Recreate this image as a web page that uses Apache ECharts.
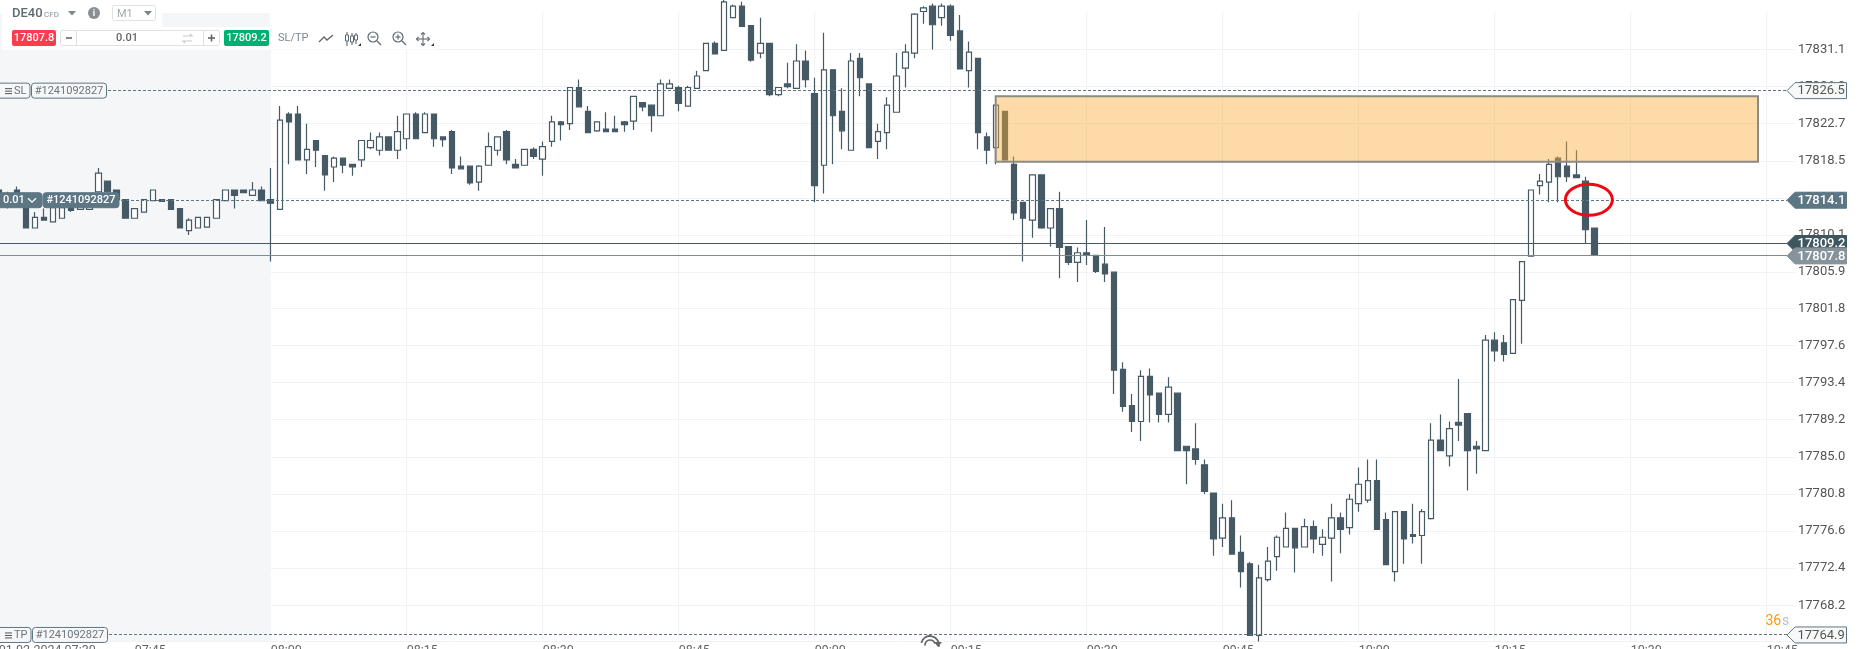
<!DOCTYPE html>
<html>
<head>
<meta charset="utf-8">
<style>html,body{margin:0;padding:0;background:#fff;overflow:hidden}#c{width:1859px;height:649px}</style>
<script src="https://cdn.jsdelivr.net/npm/echarts@6/dist/echarts.min.js"></script>
</head>
<body>
<div id="c"></div>
<script>
const opens = [
17815.2,17814.6,17815.2,17814.3,17810.9,17812.1,17811.6,17812.0,17813.3,17813.0,
17813.0,17815.0,17816.2,17815.2,17814.1,17812.0,17812.7,17814.0,17814.1,17814.1,
17813.1,17810.6,17810.9,17811.0,17812.0,17814.0,17815.2,17815.2,17814.6,17815.2,
17814.1,17813.0,17823.8,17823.8,17818.6,17820.8,17819.1,17817.8,17818.8,17818.1,
17818.6,17820.0,17819.7,17821.2,17819.7,17821.0,17823.8,17821.7,17823.8,17821.2,
17821.8,17817.9,17817.9,17816.1,17818.0,17819.7,17821.8,17818.1,17818.0,17819.8,
17818.7,17820.7,17822.9,17822.7,17826.8,17824.1,17821.9,17822.1,17822.1,17822.9,
17823.0,17825.1,17824.8,17823.6,17826.7,17826.8,17824.7,17826.7,17828.7,17831.8,
17831.0,17834.7,17836.0,17833.8,17830.7,17831.8,17826.0,17827.2,17826.7,17829.8,
17826.1,17818.0,17828.8,17824.1,17819.7,17830.1,17827.2,17820.7,17821.7,17824.0,
17829.0,17830.7,17835.4,17836.0,17834.7,17836.0,17833.2,17828.7,17830.1,17821.2,
17820.0,17824.1,17818.1,17813.8,17811.8,17816.9,17810.9,17813.1,17808.8,17807.0,
17808.1,17807.8,17806.8,17805.9,17794.9,17790.8,17789.0,17794.1,17792.2,17789.8,
17792.2,17786.2,17785.9,17784.1,17780.9,17775.8,17778.1,17774.2,17772.9,17764.8,
17771.1,17773.7,17774.8,17776.9,17774.8,17777.1,17775.1,17775.8,17778.1,17777.0,
17779.7,17780.1,17782.3,17777.9,17772.0,17778.8,17776.2,17776.1,17778.0,17786.9,
17785.1,17788.9,17789.9,17786.2,17785.7,17798.2,17797.9,17796.7,17802.7,17807.7,
17815.7,17816.1,17818.8,17817.9,17816.9,17816.2,17810.9];
const closes = [
17814.0,17813.4,17814.2,17810.9,17812.1,17811.8,17813.2,17813.2,17812.9,17813.6,
17813.6,17817.1,17815.0,17814.1,17812.0,17813.1,17814.1,17815.2,17813.9,17813.0,
17810.9,17811.8,17812.1,17812.1,17814.1,17815.2,17814.6,17814.9,17815.2,17814.0,
17813.7,17823.1,17822.9,17818.6,17819.8,17819.7,17816.9,17818.8,17818.0,17817.8,
17820.8,17820.8,17821.2,17819.7,17821.8,17823.8,17821.0,17823.8,17821.0,17820.9,
17817.7,17817.6,17816.0,17817.9,17820.1,17821.2,17818.6,17817.7,17819.8,17819.0,
17820.1,17822.9,17822.6,17826.8,17824.6,17821.7,17822.9,17821.8,17821.8,17822.6,
17825.8,17824.6,17823.6,17827.2,17827.2,17825.0,17826.8,17828.1,17831.8,17830.6,
17836.5,17836.0,17833.7,17829.9,17831.8,17826.0,17826.8,17826.9,17829.8,17827.7,
17815.7,17828.8,17823.6,17821.9,17829.8,17827.9,17820.0,17821.8,17824.8,17828.1,
17830.8,17835.1,17835.8,17833.9,17836.0,17832.7,17828.9,17830.8,17821.7,17819.7,
17824.8,17818.6,17812.6,17812.0,17816.9,17810.9,17813.1,17808.7,17807.0,17808.1,
17807.8,17806.0,17805.7,17794.8,17790.7,17789.0,17794.1,17792.0,17789.8,17792.9,
17785.7,17785.7,17784.7,17781.1,17775.7,17778.1,17774.0,17772.0,17764.8,17771.3,
17773.2,17775.9,17776.9,17774.7,17777.1,17775.7,17775.9,17778.1,17776.8,17780.2,
17781.9,17782.3,17776.8,17772.8,17778.8,17775.7,17776.0,17778.8,17786.9,17785.7,
17788.2,17788.6,17785.7,17785.9,17798.2,17797.0,17796.6,17802.8,17807.1,17815.2,
17816.2,17818.1,17816.7,17816.7,17816.6,17810.7,17807.8];
const lows = [
17813.8,17813.1,17813.9,17810.9,17810.9,17811.8,17811.6,17812.0,17812.7,17813.0,
17813.0,17815.0,17815.0,17814.1,17812.0,17812.0,17812.7,17814.0,17813.9,17813.0,
17810.9,17810.1,17810.9,17811.0,17812.0,17814.0,17813.1,17814.9,17814.6,17814.0,
17807.1,17813.0,17818.1,17818.6,17817.0,17817.8,17815.1,17816.1,17817.1,17816.8,
17817.8,17819.8,17819.1,17819.7,17818.7,17819.8,17821.0,17821.7,17820.1,17820.1,
17817.0,17817.6,17815.8,17815.1,17818.0,17819.1,17818.1,17817.7,17818.0,17818.7,
17816.8,17820.1,17820.8,17822.0,17824.6,17821.7,17821.8,17821.8,17821.8,17821.8,
17822.0,17824.1,17821.8,17823.6,17826.7,17824.1,17824.7,17826.7,17828.7,17830.6,
17831.0,17834.7,17833.7,17829.7,17830.1,17825.8,17825.8,17826.7,17826.7,17826.8,
17813.8,17814.8,17818.1,17819.8,17819.7,17825.8,17820.0,17818.7,17819.8,17824.0,
17826.8,17830.1,17834.0,17831.1,17833.8,17832.1,17828.9,17826.8,17819.8,17818.1,
17818.1,17818.6,17811.8,17807.1,17809.8,17810.8,17808.8,17805.2,17806.7,17804.8,
17806.7,17805.8,17804.8,17792.1,17790.1,17787.8,17786.8,17788.9,17788.9,17788.9,
17785.7,17781.9,17784.1,17780.8,17773.8,17774.8,17774.0,17770.2,17764.8,17764.1,
17770.9,17772.1,17774.8,17771.9,17774.8,17774.1,17773.8,17770.9,17774.1,17776.2,
17778.8,17779.8,17776.8,17772.8,17770.9,17772.9,17775.2,17772.9,17777.9,17785.7,
17783.9,17786.8,17781.2,17783.1,17785.7,17795.8,17795.8,17796.7,17797.8,17807.7,
17814.7,17813.8,17813.8,17816.1,17816.6,17809.2,17807.8];
const highs = [
17815.4,17815.0,17815.6,17814.6,17812.7,17813.1,17813.4,17813.4,17813.5,17813.8,
17813.7,17817.7,17816.2,17815.2,17814.1,17813.1,17814.1,17815.2,17814.1,17814.1,
17813.1,17812.0,17812.1,17812.1,17814.1,17815.2,17815.2,17815.2,17816.1,17815.6,
17817.7,17824.7,17824.0,17824.7,17822.7,17820.8,17819.1,17819.0,17818.8,17818.1,
17820.8,17821.7,17821.7,17821.2,17823.6,17823.8,17824.0,17824.0,17823.8,17821.2,
17822.0,17819.0,17817.9,17818.0,17821.7,17821.2,17822.0,17818.7,17819.8,17820.0,
17820.7,17823.6,17823.0,17826.8,17827.7,17824.7,17822.9,17824.0,17823.6,17823.0,
17825.8,17825.1,17824.8,17827.7,17827.7,17827.0,17827.0,17828.7,17831.8,17832.0,
17837.0,17836.2,17836.5,17833.8,17834.7,17831.8,17826.8,17829.6,17831.7,17831.0,
17827.9,17833.0,17828.8,17826.7,17830.7,17830.7,17827.2,17822.7,17825.7,17830.7,
17831.7,17835.2,17836.0,17836.3,17836.3,17836.2,17835.0,17832.0,17830.1,17821.7,
17824.8,17824.1,17819.0,17813.8,17816.9,17816.9,17813.1,17815.0,17808.8,17808.7,
17811.8,17807.8,17811.0,17805.9,17795.7,17792.1,17794.8,17795.0,17792.2,17794.0,
17792.2,17786.2,17788.8,17784.7,17780.9,17779.7,17780.1,17776.1,17773.1,17772.8,
17774.8,17776.1,17778.7,17776.9,17778.0,17777.8,17776.8,17779.7,17778.7,17780.8,
17783.8,17784.7,17784.7,17778.7,17778.8,17778.8,17779.7,17779.1,17788.8,17789.8,
17789.0,17793.8,17789.9,17786.8,17798.8,17799.1,17798.8,17802.8,17807.1,17815.2,
17817.0,17818.7,17819.0,17820.7,17819.7,17816.7,17810.9];

const firstCandleMinute = 450;
const priceTicks = [17831.1,17826.9,17822.7,17818.5,17814.3,17810.1,17805.9,17801.8,17797.6,17793.4,17789.2,17785.0,17780.8,17776.6,17772.4,17768.2];
const timeTickMinutes = [450,465,480,495,510,525,540,555,570,585,600,615,630,645];
const timeTickLabels = ['01.02.2024 07:30','07:45','08:00','08:15','08:30','08:45','09:00','09:15','09:30','09:45','10:00','10:15','10:30','10:45'];

const tagPrices = [17826.5,17814.1,17809.2,17807.8,17764.9];
const tagTexts = ['17826.5','17814.1','17809.2','17807.8','17764.9'];
const dashedPrices = [17826.5,17814.1,17764.9];
const solidPrices = [17809.2,17807.8];
const zone = [559.96,644.04,17825.8,17818.4];
const orderId = '#1241092827';
const bidText = '17807.8', askText = '17809.2', lotText = '0.01';

const DARK='#455a64', SLATE='#5c7684', GRID='#f1f2f4', FONT='Roboto';
const candleData = opens.map((o,i)=>[firstCandleMinute+i,o,closes[i],lows[i],highs[i]]);
const xMin=450, xMax=648.12, yMin=17764.08, yMax=17835.23;

const tagStyle = [
 {fill:'#f7f8f8',stroke:SLATE,color:'#555',weight:400},
 {fill:SLATE,stroke:SLATE,color:'#fff',weight:500},
 {fill:'#3f5661',stroke:'#3f5661',color:'#fff',weight:500},
 {fill:'#87939a',stroke:'#87939a',color:'#fff',weight:500},
 {fill:'#f7f8f8',stroke:SLATE,color:'#555',weight:400}
];

function box(x,y,w,h,txt,o,tx){
  return [{type:'rect',shape:{x,y,width:w,height:h,r:o.r||0},style:{fill:o.fill,stroke:o.stroke}},
          {type:'text',x:tx!==undefined?tx:x+w/2,y:y+h/2+0.5,style:{text:txt,font:(o.weight||400)+' '+(o.size||11)+'px '+FONT,fill:o.color,align:tx!==undefined?'left':'center',verticalAlign:'middle'}}];
}
function menuBars(y,color){
  return [-2.5,0,2.5].map(d=>({type:'line',shape:{x1:5,y1:y+d+0.5,x2:12,y2:y+d+0.5},style:{stroke:color,lineWidth:1}}));
}

const chart = echarts.init(document.getElementById('c'),null,{renderer:'canvas'});

const T=(x,y,text,size,color,weight,align)=>({type:'text',x,y,z:101,style:{text,font:(weight||400)+' '+size+'px '+FONT,fill:color,align:align||'left',verticalAlign:'middle'}});
const R=(x,y,w,h,fill,stroke,r)=>({type:'rect',z:100,shape:{x,y,width:w,height:h,r:r||0},style:{fill:fill||'none',stroke:stroke||'none',lineWidth:1}});
const L=(pts,stroke,lw)=>({type:'polyline',z:101,shape:{points:pts},style:{stroke:stroke,lineWidth:lw||1,fill:'none'}});
const F=(pts,c)=>({type:'polygon',z:101,shape:{points:pts},style:{fill:c}});
const TRI=(x,y,w,h,c)=>F([[x,y],[x+w,y],[x+w/2,y+h]],c);
const C=(cx,cy,r,stroke)=>({type:'circle',z:101,shape:{cx,cy,r},style:{fill:'none',stroke,lineWidth:1.2}});
const ICON='#5d6a72';

const toolbar=[
 R(2,0,435,49.5,'#fff'),
 R(162,13,108,14,'#f5f6f8'),
 T(12,14,'DE40',13,'#5f6b73',500),
 T(44,15,'CFD',8,'#8a9298',400),
 TRI(68,11,8,4.5,'#7d858b'),
 {type:'circle',z:101,shape:{cx:94,cy:13,r:6},style:{fill:'#8b8f92'}},
 T(94,13.5,'i',9,'#fff',700,'center'),
 R(112.5,5.5,43,15,'#fff','#dfe1e3',2),
 T(117,14,'M1',11,'#a2a8ac',400),
 TRI(144,11,8,4.5,'#7d858b'),
 R(12,30,44,16,'#ff3b4e',null,2),
 T(34,38,bidText,11,'#fff',500,'center'),
 R(60.5,30.5,159,15,'#fff','#dfe1e3',2),
 L([[76.5,31],[76.5,45]],'#dfe1e3'),
 L([[203.5,31],[203.5,45]],'#dfe1e3'),
 L([[66,38],[72,38]],'#666',1.6),
 L([[208,38],[215,38]],'#666',1.6),
 L([[211.5,34.5],[211.5,41.5]],'#666',1.6),
 T(127,38,lotText,11,'#666',500,'center'),
 L([[183,36],[192,36],[190,34]],'#c4c8cb',1.2),
 L([[192,41],[183,41],[185,43]],'#c4c8cb',1.2),
 R(224,30,45,16,'#00b070',null,2),
 T(246.5,38,askText,11,'#fff',500,'center'),
 T(278,38,'SL/TP',11,'#7b868d',400),
 L([[319,42],[324,37],[327,40],[333,35]],ICON,1.3),
 L([[347,32],[347,46]],ICON,1.1), {type:'rect',z:101,shape:{x:345.5,y:35,width:3,height:6},style:{fill:'#fff',stroke:ICON}},
 L([[352,33],[352,45]],ICON,1.1), {type:'rect',z:101,shape:{x:350.5,y:36,width:3,height:6},style:{fill:'#fff',stroke:ICON}},
 L([[356,33],[356,44]],ICON,1.1), {type:'rect',z:101,shape:{x:354.5,y:35,width:3,height:5},style:{fill:'#fff',stroke:ICON}},
 C(373,37,5,ICON), L([[370.5,37],[375.5,37]],ICON,1.2), L([[377,41],[381,45]],ICON,1.2),
 C(398,37,5,ICON), L([[395.5,37],[400.5,37]],ICON,1.2), L([[398,34.5],[398,39.5]],ICON,1.2), L([[402,41],[406,45]],ICON,1.2),
 L([[423,33],[423,45]],ICON,1.1), L([[417,39],[429,39]],ICON,1.1),
 L([[421,34.5],[423,32.5],[425,34.5]],ICON,1.1), L([[421,43.5],[423,45.5],[425,43.5]],ICON,1.1),
 L([[418.5,37],[416.5,39],[418.5,41]],ICON,1.1), L([[427.5,37],[429.5,39],[427.5,41]],ICON,1.1),
 F([[358,46],[361,46],[361,43]],'#333'), F([[431,46],[434,46],[434,43]],'#333'),
 T(1765.5,621,'36',14,'#ff9800',400),
 T(1782,621,'s',14,'#b9bec2',400),
 {type:'arc',z:101,shape:{cx:930,cy:645,r:9,startAngle:-2.9,endAngle:0.2},style:{stroke:'#666',lineWidth:1.8,fill:'none'}},
 {type:'arc',z:101,shape:{cx:930,cy:645,r:5,startAngle:3.0,endAngle:6.0},style:{stroke:'#666',lineWidth:1.6,fill:'none'}},
 F([[934,642],[942,642],[938,647]],'#666')
];

const option={
 animation:false,
 backgroundColor:'#fff',
 grid:{left:-1.3,top:13,width:1796.3,bottom:7.3,outerBoundsMode:'none'},
 xAxis:{type:'value',min:xMin,max:xMax,
  axisLine:{show:true,lineStyle:{color:GRID}},
  axisTick:{show:false,customValues:timeTickMinutes},
  splitLine:{show:true,lineStyle:{color:GRID,width:1}},
  axisLabel:{customValues:timeTickMinutes,margin:3,align:'left',color:'#666',fontFamily:FONT,fontSize:12.5,hideOverlap:false,
    formatter:v=>timeTickLabels[timeTickMinutes.indexOf(v)]||''}},
 yAxis:{type:'value',position:'right',min:yMin,max:yMax,
  axisLine:{show:false},
  axisTick:{show:false,customValues:priceTicks},
  splitLine:{show:true,lineStyle:{color:GRID,width:1}},
  axisLabel:{customValues:priceTicks,margin:3,color:'#555',fontFamily:FONT,fontSize:13,formatter:v=>v.toFixed(1),hideOverlap:false}},
 graphic:{elements:toolbar},
 series:[
  {type:'custom',name:'history',z:0,silent:true,data:[[xMin,yMax]],encode:{x:0,y:1},clip:false,
   renderItem(p,api){
    const a=api.coord([450,yMax]),b=api.coord([480,yMin]);
    return {type:'rect',shape:{x:0,y:a[1],width:b[0],height:b[1]-a[1]},style:{fill:'#f5f6f8'}};
   }},
  {type:'candlestick',name:'DE40',z:3,barWidth:6,data:candleData,encode:{x:0,y:[1,2,3,4]},
   itemStyle:{color:'#ffffff',color0:DARK,borderColor:DARK,borderColor0:DARK,borderWidth:1.2}},
  {type:'custom',name:'lines',z:4,silent:true,clip:false,data:dashedPrices.concat(solidPrices).map(v=>[xMin,v]),encode:{x:0,y:1},
   renderItem(p,api){
    const i=p.dataIndex, y=Math.round(api.coord([xMin,api.value(1)])[1])+0.5;
    const dashed=i<dashedPrices.length;
    const x0=dashed?[108,121,109][i]:0;
    const color=dashed?SLATE:(i===3?DARK:'#7f8c92');
    return {type:'line',shape:{x1:x0,y1:y,x2:1787,y2:y},style:{stroke:color,lineWidth:dashed?1:1.2,lineDash:dashed?[3,2]:null}};
   }},
  {type:'custom',name:'zone',z:5,silent:true,clip:false,data:[zone],encode:{x:[0,1],y:[2,3]},
   renderItem(p,api){
    const a=api.coord([api.value(0),api.value(2)]),b=api.coord([api.value(1),api.value(3)]);
    return {type:'rect',shape:{x:a[0],y:a[1],width:b[0]-a[0],height:b[1]-a[1]},style:{fill:'rgba(251,170,49,0.43)',stroke:'#8b8b85',lineWidth:2}};
   }},
  {type:'custom',name:'marker',z:6,silent:true,clip:false,data:[[firstCandleMinute+175,17814.1]],encode:{x:0,y:1},
   renderItem(p,api){
    const c=api.coord([api.value(0),api.value(1)]);
    return {type:'ellipse',shape:{cx:c[0]+3.5,cy:c[1],rx:23.5,ry:15.5},style:{fill:'none',stroke:'#ee0a14',lineWidth:3}};
   }},
  {type:'custom',name:'tags',z:7,silent:true,clip:false,data:tagPrices.map(v=>[xMin,v]),encode:{x:0,y:1},
   renderItem(p,api){
    const i=p.dataIndex,s=tagStyle[i],y=api.coord([xMin,api.value(1)])[1]+0.5;
    const pts=[[1787,y],[1795,y-8],[1846.5,y-8],[1846.5,y+8],[1795,y+8]];
    return {type:'group',children:[
     {type:'polygon',shape:{points:pts},style:{fill:s.fill,stroke:s.stroke,lineWidth:1}},
     {type:'text',x:1797.5,y:y+0.5,style:{text:tagTexts[i],font:s.weight+' 13px '+FONT,fill:s.color,verticalAlign:'middle'}}
    ]};
   }},
  {type:'custom',name:'orders',z:7,silent:true,clip:false,data:dashedPrices.map(v=>[xMin,v]),encode:{x:0,y:1},
   renderItem(p,api){
    const i=p.dataIndex,y=api.coord([xMin,api.value(1)])[1]+0.5;
    const filled=i===1;
    const o={fill:filled?SLATE:'#f6f7f9',stroke:SLATE,color:filled?'#fff':'#6a7479',weight:filled?500:400,size:11,r:3};
    let kids=[];
    if(i===0) kids=box(-3,y-7.5,33,15,'SL',o,14).concat(menuBars(y,'#555'),box(31.5,y-7.5,75,15,orderId,o));
    if(i===1) kids=box(-3,y-7.5,45,15,lotText,o,3).concat(
       [{type:'polyline',shape:{points:[[28,y-2],[32,y+2],[36,y-2]]},style:{stroke:'#fff',lineWidth:1.2,fill:'none'}}],
       box(43,y-7.5,76,15,orderId,o));
    if(i===2) kids=box(-3,y-7.5,34,15,'TP',o,14).concat(menuBars(y,'#555'),box(32.5,y-7.5,75,15,orderId,o));
    return {type:'group',children:kids};
   }}
 ]
};
chart.setOption(option);
</script>
</body>
</html>
